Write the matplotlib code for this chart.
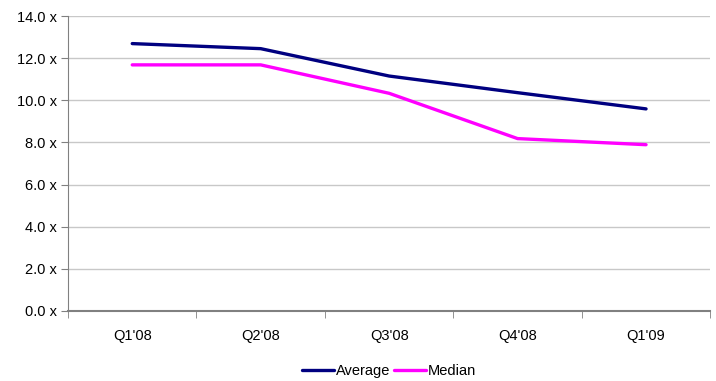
import matplotlib.pyplot as plt

quarters = ["Q1'08", "Q2'08", "Q3'08", "Q4'08", "Q1'09"]
average = [12.69, 12.45, 11.15, 10.36, 9.59]
median = [11.68, 11.68, 10.33, 8.18, 7.89]
y_ticks = [0, 2, 4, 6, 8, 10, 12, 14]

plt.rcParams['font.family'] = ['Liberation Sans', 'DejaVu Sans']

fig = plt.figure(figsize=(7.16, 3.81), dpi=100)
ax = fig.add_axes([0.095, 0.184, 0.897, 0.774])

x = range(len(quarters))
ax.plot(x, average, color='#000080', linewidth=2.4, label='Average', solid_capstyle='round')
ax.plot(x, median, color='#FF00FF', linewidth=2.4, label='Median', solid_capstyle='round')

ax.set_xlim(-0.5, len(quarters) - 0.5)
ax.set_ylim(0, 14)
ax.set_yticks(y_ticks)
ax.set_yticklabels([f"{v:.1f} x" for v in y_ticks], fontsize=10.5)
ax.yaxis.grid(True, color='#c8c8c8', linewidth=1)
ax.set_axisbelow(True)

# category labels centred, tick marks at the boundaries
ax.set_xticks(list(x))
ax.set_xticklabels(quarters, fontsize=10.5)
ax.tick_params(axis='x', length=0, pad=13)
ax.set_xticks([i - 0.5 for i in range(len(quarters) + 1)], minor=True)
ax.tick_params(axis='x', which='minor', length=5, color='#808080', direction='out')
ax.tick_params(axis='y', length=5, color='#808080', direction='out', pad=3)

ax.spines['top'].set_visible(False)
ax.spines['right'].set_visible(False)
ax.spines['left'].set_color('#808080')
ax.spines['bottom'].set_color('#808080')
ax.spines['bottom'].set_linewidth(1.5)

ax.legend(loc='upper center', bbox_to_anchor=(0.5, -0.175), ncol=2, frameon=False,
          fontsize=10.5, handlelength=2.2, handletextpad=0.1, columnspacing=0.3,
          borderaxespad=0, borderpad=0.1)

fig.savefig('out.png', dpi=100)
